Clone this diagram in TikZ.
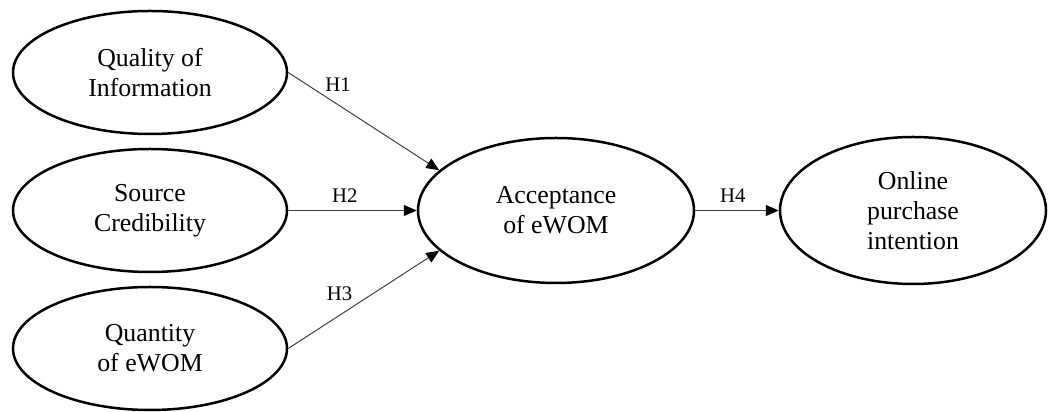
\documentclass[tikz,border=0pt]{standalone}
\usepackage{fontspec}
\setmainfont{Liberation Serif}
\usetikzlibrary{shapes.geometric, arrows.meta}

\tikzset{
    construct/.style={ellipse, draw, line width=0.05cm, inner sep=0pt, align=center,
        font=\fontsize{14.7}{17}\selectfont},
    link/.style={draw=black!75, line width=0.02cm,
        -{Triangle[length=0.26cm, width=0.22cm, color=black]}},
    hyp/.style={font=\fontsize{11.8}{14}\selectfont, inner sep=1pt, text=black}
}

\begin{document}
\begin{tikzpicture}
        \useasboundingbox (0,0) rectangle (21.02,-8.24);

        % constructs
        \node[construct, minimum width=5.48cm, minimum height=2.46cm] (qual) at (3.00,-1.45) {Quality of\\Information};
        \node[construct, minimum width=5.48cm, minimum height=2.46cm] (src) at (3.00,-4.21) {Source\\Credibility};
        \node[construct, minimum width=5.48cm, minimum height=2.46cm] (quan) at (3.00,-6.97) {Quantity\\of eWOM};
        \node[construct, minimum width=5.52cm, minimum height=2.90cm] (acc) at (11.12,-4.21) {Acceptance\\of eWOM};
        \node[construct, minimum width=5.32cm, minimum height=2.94cm] (onl) at (18.26,-4.21) {Online\\purchase\\intention};

        % hypotheses
        \draw[link] (qual.east) -- node[hyp, pos=0.33, above=0.22cm] {H1} (acc.161);
        \draw[link] (src.east) -- node[hyp, pos=0.44, above=0.12cm] {H2} (acc.west);
        \draw[link] (quan.east) -- node[hyp, pos=0.34, above=0.24cm] {H3} (acc.199);
        \draw[link] (acc.east) -- node[hyp, pos=0.45, above=0.12cm] {H4} (onl.west);
    \end{tikzpicture}
\end{document}
